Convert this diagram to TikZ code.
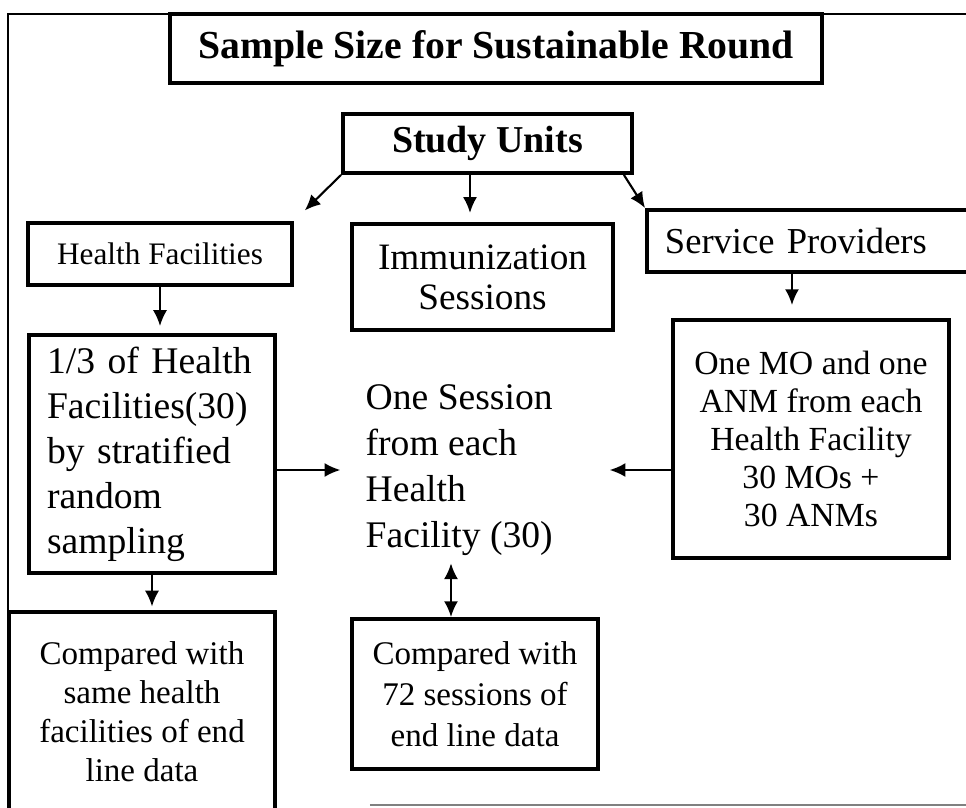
\documentclass[tikz,border=0pt]{standalone}
\usepackage{fontspec}
\setmainfont{Liberation Serif}
\usetikzlibrary{arrows.meta}

\begin{document}
\begin{tikzpicture}[
    box/.style={draw, line width=1.1pt, inner sep=0pt, align=center},
    arr/.style={line width=.6pt, -{Latex[length=4.5pt,width=4pt]}},
    twoway/.style={line width=.6pt, {Latex[length=4.5pt,width=4pt]}-{Latex[length=4.5pt,width=4pt]}}]
    \useasboundingbox (0,0) rectangle (9.66,8.07);
    % frame round the whole chart
    \draw[line width=.7pt] (0.08,0.02) -- (0.08,7.93) -- (9.8,7.93);
    \draw[gray, line width=.4pt] (3.70,0.02) -- (9.8,0.02);
    \path (4.96,7.585) node[box, minimum width=6.52cm, minimum height=0.69cm, font=\fontsize{11.3}{13}\selectfont\bfseries] (title) {Sample Size for Sustainable Round};
    \path (4.875,6.635) node[box, minimum width=2.89cm, minimum height=0.59cm, font=\fontsize{10.8}{13}\selectfont\bfseries] (units) {Study Units};
    % the three kinds of unit
    \path (1.60,5.53) node[box, minimum width=2.64cm, minimum height=0.62cm, font=\fontsize{8.9}{11}\selectfont] (hf) {Health Facilities};
    \path (4.825,5.30) node[box, minimum width=2.61cm, minimum height=1.06cm, font=\fontsize{10.6}{11.4}\selectfont] (imm) {Immunization\\Sessions};
    \path (8.235,5.66) node[box, minimum width=3.53cm, minimum height=0.62cm, text width=3.17cm, align=left, font=\fontsize{10.4}{12}\selectfont] (sp) {Service Providers};
    % samples taken
    \path (1.52,3.53) node[box, minimum width=2.46cm, minimum height=2.38cm, text width=2.10cm, align=left, font=\fontsize{10.7}{12.8}\selectfont] (third) {1/3 of Health\\Facilities(30)\\by stratified\\random\\sampling};
    \path (3.65,3.37) node[anchor=west, inner sep=0pt, align=left, font=\fontsize{10.7}{13.1}\selectfont] (ses) {One Session\\from each\\Health\\Facility (30)};
    \path (8.11,3.68) node[box, minimum width=2.76cm, minimum height=2.38cm, font=\fontsize{9.6}{10.8}\selectfont] (mo) {One MO and one\\ANM from each\\Health Facility\\30 MOs +\\30 ANMs};
    % end line comparison
    \path (1.42,0.95) node[box, minimum width=2.66cm, minimum height=2.00cm, font=\fontsize{9.4}{11.1}\selectfont] (cmpa) {Compared with\\same health\\facilities of end\\line data};
    \path (4.75,1.13) node[box, minimum width=2.46cm, minimum height=1.50cm, font=\fontsize{9.4}{11.7}\selectfont] (cmpb) {Compared with\\72 sessions of\\end line data};
    % connectors
    \draw[arr, shorten >=4.3pt] (units.south west) -- (hf.north east);
    \draw[arr, shorten >=2.6pt] (4.70,0 |- units.south) -- (4.70,0 |- imm.north);
    \draw[arr] ([xshift=-2.85pt]units.south east) -- (sp.north west);
    \draw[arr, shorten >=2pt] (hf.south) -- (hf.south |- third.north);
    \draw[arr, shorten >=7pt] (third.east |- ses.west) -- (ses.west);
    \draw[arr, shorten >=16pt] (mo.west |- ses.east) -- (ses.east);
    \draw[arr, shorten >=3.7pt] (7.92,0 |- sp.south) -- (7.92,0 |- mo.north);
    \draw[twoway, shorten <=2pt] (4.51,0 |- ses.south) -- (4.51,0 |- cmpb.north);
    \draw[arr, shorten >=1pt] (third.south) -- (third.south |- cmpa.north);
\end{tikzpicture}
\end{document}
